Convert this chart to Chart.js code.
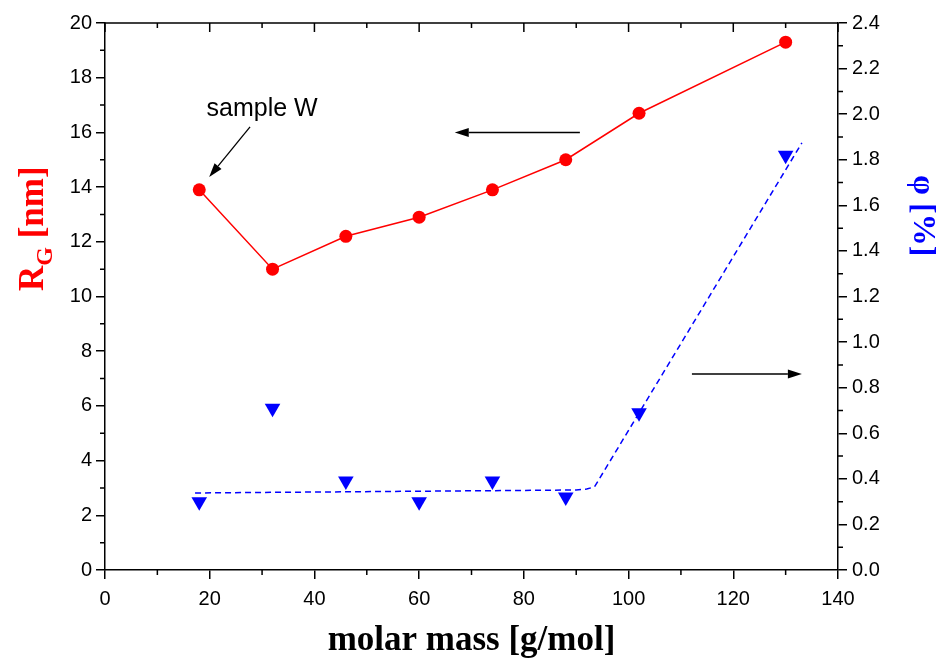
<!DOCTYPE html>
<html>
<head>
<meta charset="utf-8">
<script src="https://cdn.jsdelivr.net/npm/chart.js@4.4.0/dist/chart.umd.min.js"></script>
<style>
  html, body { margin: 0; padding: 0; background: #fff; }
  #wrap { width: 940px; height: 659px; }
</style>
</head>
<body>
<div id="wrap"><canvas id="rgChart" width="940" height="659"></canvas></div>
<script>
// values
const molarMass = [18, 32, 46, 60, 74, 88, 102, 130];
const radiusGyration = [13.9, 11.0, 12.2, 12.9, 13.9, 15.0, 16.7, 19.3];
const volumeFraction = [0.30, 0.71, 0.39, 0.30, 0.39, 0.32, 0.69, 1.82];
const fitMass = [17.2, 90, 92, 93.5, 133.1];
const fitFraction = [0.338, 0.351, 0.355, 0.365, 1.874];

const xTicks = [0, 20, 40, 60, 80, 100, 120, 140];
const yTicks = [0, 2, 4, 6, 8, 10, 12, 14, 16, 18, 20];
const y1Ticks = [0, 0.2, 0.4, 0.6, 0.8, 1.0, 1.2, 1.4, 1.6, 1.8, 2.0, 2.2, 2.4];

const tickFont = { family: "Liberation Sans", size: 20 };

function pairs(xs, ys) {
  return xs.map((x, i) => ({ x: x, y: ys[i] }));
}

function arrow(ctx, x0, y0, x1, y1) {
  const ang = Math.atan2(y1 - y0, x1 - x0);
  const len = 14, half = 4.5;
  const bx = x1 - Math.cos(ang) * len, by = y1 - Math.sin(ang) * len;
  ctx.beginPath();
  ctx.moveTo(x0, y0);
  ctx.lineTo(bx, by);
  ctx.stroke();
  ctx.beginPath();
  ctx.moveTo(x1, y1);
  ctx.lineTo(bx - Math.sin(ang) * half, by + Math.cos(ang) * half);
  ctx.lineTo(bx + Math.sin(ang) * half, by - Math.cos(ang) * half);
  ctx.closePath();
  ctx.fill();
}

const decorations = {
  id: "decorations",
  afterDraw(chart) {
    const { ctx, chartArea: a } = chart;
    const { x, y, y1 } = chart.scales;
    ctx.save();

    // frame top + minor ticks
    ctx.strokeStyle = "#000";
    ctx.lineWidth = 1.5;
    ctx.beginPath();
    ctx.moveTo(a.left, a.top);
    ctx.lineTo(a.right, a.top);
    for (let v = 0; v <= 140; v += 10) {
      const px = x.getPixelForValue(v);
      const major = v % 20 === 0;
      ctx.moveTo(px, a.top);
      ctx.lineTo(px, a.top + (major ? 9 : 5));
      if (!major) {
        ctx.moveTo(px, a.bottom);
        ctx.lineTo(px, a.bottom + 5);
      }
    }
    for (let v = 1; v < 20; v += 2) {
      const py = y.getPixelForValue(v);
      ctx.moveTo(a.left - 5, py);
      ctx.lineTo(a.left, py);
    }
    for (let k = 1; k < 24; k += 2) {
      const py = y1.getPixelForValue(k / 10);
      ctx.moveTo(a.right, py);
      ctx.lineTo(a.right + 5, py);
    }
    ctx.stroke();

    // annotation arrows
    ctx.fillStyle = "#000";
    ctx.lineWidth = 1.5;
    arrow(ctx, x.getPixelForValue(90.7), y.getPixelForValue(16.0),
               x.getPixelForValue(66.8), y.getPixelForValue(16.0));
    arrow(ctx, x.getPixelForValue(112.1), y1.getPixelForValue(0.86),
               x.getPixelForValue(133.1), y1.getPixelForValue(0.86));
    ctx.lineWidth = 1.3;
    arrow(ctx, x.getPixelForValue(27.7), y.getPixelForValue(16.2),
               x.getPixelForValue(19.9), y.getPixelForValue(14.37));

    ctx.font = '25px "Liberation Sans"';
    ctx.textAlign = "center";
    ctx.textBaseline = "alphabetic";
    ctx.fillText("sample W", x.getPixelForValue(30), y.getPixelForValue(16.6));

    // axis titles
    ctx.font = 'bold 35px "Liberation Serif"';
    ctx.fillText("molar mass [g/mol]", (a.left + a.right) / 2, 650);

    ctx.save();
    ctx.fillStyle = "#ff0000";
    ctx.translate(43, 291);
    ctx.rotate(-Math.PI / 2);
    ctx.textAlign = "left";
    ctx.font = 'bold 35px "Liberation Serif"';
    const wR = ctx.measureText("R").width;
    ctx.fillText("R", 0, 0);
    ctx.font = 'bold 24px "Liberation Serif"';
    const wG = ctx.measureText("G").width;
    ctx.fillText("G", wR, 9);
    ctx.font = 'bold 35px "Liberation Serif"';
    ctx.fillText(" [nm]", wR + wG, 0);
    ctx.restore();

    ctx.save();
    ctx.fillStyle = "#0000ff";
    ctx.translate(914, 175);
    ctx.rotate(Math.PI / 2);
    ctx.textAlign = "left";
    ctx.font = 'bold 32px "Liberation Serif"';
    ctx.fillText("φ [%]", 0, 0);
    ctx.restore();

    ctx.restore();
  }
};

function axisTicks(list) {
  return function (scale) {
    scale.ticks = list.map(v => ({ value: v }));
  };
}

const rgChart = new Chart(document.getElementById("rgChart").getContext("2d"), {
  type: "scatter",
  data: {
    datasets: [
      {
        label: "R_G",
        data: pairs(molarMass, radiusGyration),
        yAxisID: "y",
        showLine: true,
        borderColor: "#ff0000",
        borderWidth: 1.5,
        backgroundColor: "#ff0000",
        pointBackgroundColor: "#ff0000",
        pointBorderColor: "#ff0000",
        pointRadius: 6.5,
        pointBorderWidth: 0,
      },
      {
        label: "phi",
        data: pairs(molarMass, volumeFraction),
        yAxisID: "y1",
        showLine: false,
        pointStyle: "triangle",
        rotation: 180,
        pointRadius: 9,
        pointBackgroundColor: "#0000ff",
        pointBorderColor: "#0000ff",
        pointBorderWidth: 0,
      },
      {
        label: "fit",
        data: pairs(fitMass, fitFraction),
        yAxisID: "y1",
        showLine: true,
        borderColor: "#0000ff",
        borderWidth: 1.5,
        borderDash: [6, 4],
        pointRadius: 0,
      },
    ],
  },
  options: {
    responsive: false,
    animation: false,
    devicePixelRatio: 1,
    layout: { padding: { top: 23, left: 0, right: 0, bottom: 0 }, autoPadding: false },
    plugins: {
      legend: { display: false },
      tooltip: { enabled: false },
    },
    scales: {
      x: {
        type: "linear",
        position: "bottom",
        min: 0,
        max: 140,
        afterBuildTicks: axisTicks(xTicks),
        afterFit: (s) => { s.height = 89; },
        ticks: { font: tickFont, color: "#000", padding: 8, maxRotation: 0 },
        grid: { drawOnChartArea: false, drawTicks: true, tickLength: 9, color: "#000", lineWidth: 1.5 },
        border: { display: true, color: "#000", width: 1.5 },
      },
      y: {
        type: "linear",
        position: "left",
        min: 0,
        max: 20,
        afterBuildTicks: axisTicks(yTicks),
        afterFit: (s) => { s.width = 105; },
        ticks: { font: tickFont, color: "#000", padding: 4 },
        grid: { drawOnChartArea: false, drawTicks: true, tickLength: 9, color: "#000", lineWidth: 1.5 },
        border: { display: true, color: "#000", width: 1.5 },
      },
      y1: {
        type: "linear",
        position: "right",
        min: 0,
        max: 2.4,
        afterBuildTicks: axisTicks(y1Ticks),
        afterFit: (s) => { s.width = 102; },
        ticks: {
          font: tickFont,
          color: "#000",
          padding: 5,
          callback: (v) => v.toFixed(1),
        },
        grid: { drawOnChartArea: false, drawTicks: true, tickLength: 9, color: "#000", lineWidth: 1.5 },
        border: { display: true, color: "#000", width: 1.5 },
      },
    },
  },
  plugins: [decorations],
});
</script>
</body>
</html>
